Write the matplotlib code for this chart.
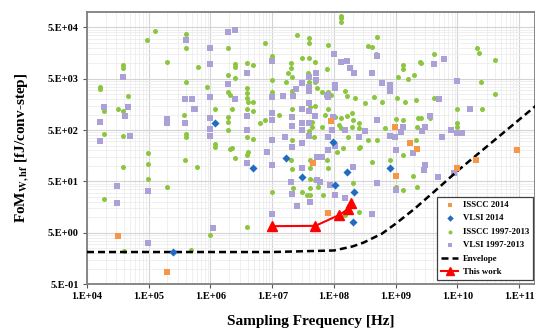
import numpy as np
import matplotlib
matplotlib.use("Agg")
import matplotlib.pyplot as plt
from matplotlib.ticker import FixedLocator, NullFormatter

plt.rcParams['font.family'] = ['Liberation Serif', 'DejaVu Serif']
plt.rcParams['font.weight'] = 'bold'
plt.rcParams['mathtext.fontset'] = 'stix'

# ---- data (frequency in Hz, FoM in fJ/conv-step) ----

# ISSCC 1997-2013
isscc_old_f = [1.26e5, 9.3e4, 4.0e5, 4.0e5, 2.0e5, 6.3e5, 3.8e4, 3.8e4, 4.0e5, 1.6e4,
               1.6e4, 4.6e4, 3.2e4, 3.8e4, 1.9e4, 3.7e5, 1.9e4, 3.8e4, 4.0e5, 4.0e5,
               7.6e6, 1.9e6, 2.5e7, 1.0e7, 3.9e6, 4.9e6, 2.5e6, 2.5e6, 3.0e7, 2.0e7,
               2.0e7, 1.9e6, 2.5e6, 1.8e7, 2.1e7, 3.8e7, 8.8e5, 1.9e6, 2.1e6, 3.9e6,
               3.9e6, 3.9e6, 4.0e6, 4.9e6, 1.0e7, 1.0e7, 1.7e7, 2.1e7, 2.2e6, 1.2e6,
               3.9e6, 4.9e6, 1.9e6, 1.9e6, 1.3e7, 7.6e6, 6.3e6, 2.1e7, 1.9e6, 3.9e6,
               4.9e6, 1.2e6, 2.2e6, 2.1e7, 3.8e7,
               1.3e8, 1.3e8, 1.3e8, 4.0e7, 4.0e7, 8.1e7, 4.0e7, 5.0e7, 5.0e8, 3.6e8,
               4.2e8, 4.8e8, 1.3e9, 1.3e9, 2.5e9, 2.0e9, 1.6e9, 1.1e9, 7.7e7, 4.0e7,
               5.0e7, 5.4e7, 6.4e7, 8.1e7, 9.0e7, 1.5e8, 1.6e8, 2.2e8, 3.2e8, 4.5e8,
               6.0e8, 1.05e9, 1.4e9, 2.1e9, 5.0e7, 4.1e7, 8.1e7, 7.2e7, 1.3e8, 1.05e8,
               1.6e8, 1.95e8, 2.0e8, 2.5e8, 1.95e8, 2.5e8, 1.2e8, 1.3e8, 4.4e7, 4.4e7,
               6.4e7, 4.0e7, 4.8e7, 6.7e8, 1.0e9, 1.3e9, 2.3e9, 1.7e8, 3.5e8, 5.0e8,
               2.6e8, 2.1e9,
               2.1e10, 2.2e10, 4.1e10, 4.1e9, 2.6e9, 2.4e10, 4.1e10, 4.1e9, 1.0e10, 2.5e10,
               2.6e9, 3.6e9, 2.2e9, 1.0e10, 1.0e10,
               9.7e4, 9.7e4, 3.8e4, 3.9e5, 6.0e5, 9.7e4, 2.0e5, 1.9e4, 4.0e4, 4.8e5,
               1.2e6, 2.1e6, 2.5e6, 3.9e6, 4.0e6, 1.0e7, 3.9e6, 9.8e5, 2.0e7, 2.1e7,
               2.2e7, 3.0e7, 3.7e7,
               4.1e7, 4.1e7, 4.1e7, 7.7e7, 8.1e7, 1.4e8, 1.1e8, 2.5e8, 4.2e8, 8.1e8,
               1.3e9, 1.9e9, 1.0e9, 1.3e9, 2.0e8, 2.5e8, 1.5e8, 4.1e7, 5.0e7, 5.5e7,
               6.6e7, 4.1e7, 2.2e9]
isscc_old_fom = [4.2e4, 2.9e4, 3.8e4, 2.0e4, 1.05e4, 8.3e3, 9.1e3, 8.0e3, 4.3e3, 3.4e3,
                 3.1e3, 2.3e3, 1.26e3, 1.2e3, 1.2e3, 1.0e3, 415, 380, 415, 360,
                 2.5e4, 2.0e4, 3.5e4, 1.4e4, 1.0e4, 9.1e3, 9.5e3, 8.3e3, 1.25e4, 1.0e4,
                 8.0e3, 5.8e3, 5.1e3, 6.4e3, 5.3e3, 6.4e3, 3.4e3, 2.7e3, 2.4e3, 3.25e3,
                 2.6e3, 2.1e3, 1.75e3, 1.8e3, 4.7e3, 2.8e3, 4.3e3, 2.95e3, 1.3e3, 1.26e3,
                 1.26e3, 1.2e3, 890, 710, 1.0e3, 780, 680, 1.3e3, 500, 360,
                 330, 265, 225, 315, 1.2e3,
                 8.5e4, 7.5e4, 6.3e4, 3.1e4, 2.5e4, 2.3e4, 1.25e4, 1.05e4, 3.3e4, 2.2e4,
                 2.1e4, 1.5e4, 9.1e3, 7.6e3, 1.05e4, 5.8e3, 4.9e3, 5.3e3, 7.6e3, 4.3e3,
                 4.3e3, 3.25e3, 2.7e3, 2.7e3, 2.4e3, 2.95e3, 2.3e3, 2.1e3, 1.65e3, 2.2e3,
                 1.8e3, 2.1e3, 1.75e3, 1.9e3, 1.5e3, 1.4e3, 1.26e3, 1.0e3, 850, 890,
                 930, 1.07e3, 780, 680, 565, 545, 620, 545, 710, 565,
                 565, 475, 360, 545, 810, 780, 850, 360, 315, 315,
                 235, 315,
                 2.0e4, 1.6e4, 1.15e4, 1.55e4, 1.0e4, 4.3e3, 2.5e3, 2.1e3, 1.26e3, 1.26e3,
                 850, 850, 565, 680, 565,
                 177, 108, 95, 129, 95, 55, 39, 22.5, 2.2, 2.3,
                 235, 213, 141, 162, 185, 31, 6.4, 4.5, 129, 87,
                 37, 31, 27,
                 129, 91, 55, 129, 91, 225, 185, 225, 118, 129,
                 162, 63, 39, 34, 46, 12.6, 11, 37, 53, 39,
                 27, 27, 39]

# VLSI 1997-2013
vlsi_old_f = [4.0e5, 3.8e4, 1.9e4, 4.6e4, 4.1e4, 3.9e5, 5.0e5, 5.4e5, 2.0e5, 1.6e4,
              2.0e5, 3.9e5, 1.6e4, 5.0e4,
              1.9e6, 2.5e6, 9.8e5, 9.8e5, 3.9e6, 1.0e7, 1.9e6, 9.8e5, 2.5e6, 3.9e6,
              9.8e5, 9.8e5, 9.8e5, 1.0e7, 1.5e7, 3.0e7, 2.4e7, 2.2e7, 1.0e7, 1.0e7,
              2.1e7, 3.0e7, 3.0e7, 2.1e7, 3.0e7, 1.0e7, 1.6e7, 3.0e7, 3.9e6, 5.6e5,
              1.0e8, 1.3e8, 1.6e8, 1.8e8, 2.1e8, 4.2e8, 5.0e8, 6.0e8, 8.1e8, 8.1e8,
              4.0e7, 5.1e7, 5.1e7, 4.0e7, 4.0e7, 1.05e8, 1.05e8, 7.7e7, 8.1e7, 4.0e7,
              4.0e7, 5.0e7, 4.0e7, 9.7e7, 1.5e8, 9.3e7, 4.0e7, 8.1e7, 2.5e8, 3.2e8,
              5.0e8, 8.1e8, 9.8e8, 1.3e9, 1.2e9, 1.05e8,
              6.1e9, 4.1e9, 1.0e10, 5.0e9, 1.6e10, 3.6e9, 3.0e9, 2.7e9, 7.9e9, 1.0e10,
              1.2e10, 5.6e9,
              3.1e4, 9.7e4, 3.1e4, 9.7e4,
              3.9e6, 8.3e6, 1.0e7, 2.1e7, 3.0e7, 2.0e7, 2.1e7, 2.5e7, 1.0e7, 1.1e6,
              5.4e7, 6.4e7, 8.1e7, 5.4e7, 6.0e7, 4.1e7, 8.7e7, 1.05e8, 1.5e8, 2.0e8,
              5.0e8, 1.0e9, 1.0e9, 1.9e9, 4.2e8,
              3.0e9, 2.9e9, 4.9e9, 8.9e9]
vlsi_old_fom = [2.8e4, 5.3e3, 1.4e3, 1.4e3, 930, 2.0e3, 2.0e3, 1.26e3, 810, 710,
                680, 680, 300, 380,
                4.0e4, 4.4e4, 1.95e4, 9.5e3, 6.4e3, 1.1e4, 3.9e3, 2.2e3, 2.0e3, 930,
                850, 520, 380, 2.2e3, 2.3e3, 4.1e3, 3.1e3, 2.3e3, 1.07e3, 780,
                890, 1.26e3, 680, 590, 500, 315, 360, 275, 500, 1.26e3,
                1.55e4, 1.05e4, 1.1e4, 8.0e3, 6.4e3, 6.4e3, 1.4e4, 4.1e3, 3.7e3, 2.95e3,
                5.3e3, 6.4e3, 4.7e3, 3.4e3, 2.95e3, 3.7e3, 3.25e3, 2.4e3, 2.2e3, 1.65e3,
                1.2e3, 930, 680, 890, 500, 500, 380, 360, 360, 475,
                780, 380, 360, 565, 455, 250,
                1.2e4, 9.5e3, 4.45e3, 2.0e3, 1.3e3, 930, 565, 475, 500, 435,
                435, 360,
                41, 32, 19, 3.1,
                113, 185, 104, 235, 91, 48, 28, 16.5, 11.5, 6.1,
                148, 148, 203, 53, 48, 20, 42, 27, 23.5, 95,
                46, 34, 203, 177, 11.5,
                104, 83, 60, 72]

# ISSCC 2014
isscc14_f = [9.0e7, 9.8e8, 1.7e9, 2.2e9, 1.0e10, 2.0e10, 9.3e10, 1.0e9, 4.6e7, 8.1e7,
             3.2e4, 2.0e5]
isscc14_fom = [740, 565, 275, 213, 91, 129, 203, 63, 113, 12,
               4.3, 0.85]

# VLSI 2014
vlsi14_f = [1.2e6, 4.9e6, 1.7e7, 3.0e7, 9.7e7, 1.05e8, 1.6e8, 2.1e8, 2.0e8, 8.1e8, 2.5e5]
vlsi14_fom = [680, 91, 141, 60, 290, 42, 76, 31, 8.1, 91, 2.1]

# Envelope
env_f = [1e4, 1e7, 1e8, 2e8, 3e8, 6e8, 1e9, 2e9, 5e9, 1e10, 3e10, 1e11, 2e11]
env_fom = [2.1, 2.1, 2.25, 2.7, 3.2, 4.8, 7.5, 14.5, 38, 80, 240, 800, 1600]

# This work
tw_f = [1.0e7, 5.0e7, 1.2e8, 1.7e8, 1.9e8]
tw_fom = [6.7, 6.8, 11, 14.4, 19]

# ---- plot ----
fig = plt.figure(figsize=(5.35, 3.31), dpi=100)
ax = fig.add_axes([87/535, 47/331, 448/535, 272/331])

green = '#8cc63f'
purple = '#aba1d6'
orange = '#f79646'
blue = '#1f6cc0'

h3 = ax.scatter(isscc_old_f, isscc_old_fom, s=13, marker='o', color=green, linewidths=0, zorder=2)
h4 = ax.scatter(vlsi_old_f, vlsi_old_fom, s=13, marker='s', color=purple, linewidths=0, zorder=3)
h1 = ax.scatter(isscc14_f, isscc14_fom, s=13, marker='s', color=orange, linewidths=0, zorder=4)
h2 = ax.scatter(vlsi14_f, vlsi14_fom, s=17, marker='D', color=blue, linewidths=0, zorder=4)
h5, = ax.plot(env_f, env_fom, color='black', lw=1.8, dashes=(2.8, 1.6), zorder=3.5)
h6, = ax.plot(tw_f, tw_fom, color='#ff0000', lw=1.5, marker='^', markersize=7, zorder=6)

ax.set_xscale('log')
ax.set_yscale('log')
ax.set_xlim(1e4, 1.8e11)
ax.set_ylim(0.5, 1e5)

xt = [1e4, 1e5, 1e6, 1e7, 1e8, 1e9, 1e10, 1e11]
xt_labels = ['1.E+04', '1.E+05', '1.E+06', '1.E+07', '1.E+08', '1.E+09', '1.E+10', '1.E+11']
yt = [0.5, 5, 50, 500, 5000, 50000]
yt_labels = ['5.E-01', '5.E+00', '5.E+01', '5.E+02', '5.E+03', '5.E+04']
ax.set_xticks(xt)
ax.set_xticklabels(xt_labels)
ax.set_yticks(yt)
ax.set_yticklabels(yt_labels)

ymin = []
for e in range(-1, 5):
    for k in range(2, 10):
        ymin.append(0.5 * 10**e * k)
ax.yaxis.set_minor_locator(FixedLocator(ymin))
ax.yaxis.set_minor_formatter(NullFormatter())
ax.xaxis.set_minor_formatter(NullFormatter())

ax.tick_params(axis='both', which='major', labelsize=7.5, length=3, width=0.8,
               color='#555555', pad=3)
ax.tick_params(axis='both', which='minor', length=0)
for lab in ax.get_xticklabels() + ax.get_yticklabels():
    lab.set_fontweight('bold')

ax.grid(True, which='major', color='#d4d4d4', lw=0.8, zorder=0)
ax.grid(True, which='minor', color='#ececec', lw=0.6, zorder=0)
ax.set_axisbelow(True)

for s in ax.spines.values():
    s.set_color('#7f7f7f')
    s.set_linewidth(1.3)

ax.set_xlabel('Sampling Frequency [Hz]', fontsize=11, fontweight='bold')
ax.xaxis.set_label_coords(0.5, -0.115)
ax.set_ylabel(r'FoM$_{\mathbf{W,hf}}$ [fJ/conv-step]', fontsize=11, fontweight='bold')
ax.yaxis.set_label_coords(-0.125, 0.5)

leg = ax.legend([h1, h2, h3, h4, h5, h6],
                ['ISSCC 2014', 'VLSI 2014', 'ISSCC 1997-2013', 'VLSI 1997-2013',
                 'Envelope', 'This work'],
                loc='upper left', bbox_to_anchor=(437/535, 1 - 197/331),
                bbox_transform=fig.transFigure, prop={'weight': 'bold', 'size': 6.3},
                fancybox=False, framealpha=1, edgecolor='#404040',
                handlelength=2.0, handletextpad=0.5, borderpad=0.45, borderaxespad=0,
                labelspacing=0.6, markerscale=0.8)
leg.get_frame().set_linewidth(0.9)
leg.set_zorder(10)

fig.savefig('out.png', dpi=100)
